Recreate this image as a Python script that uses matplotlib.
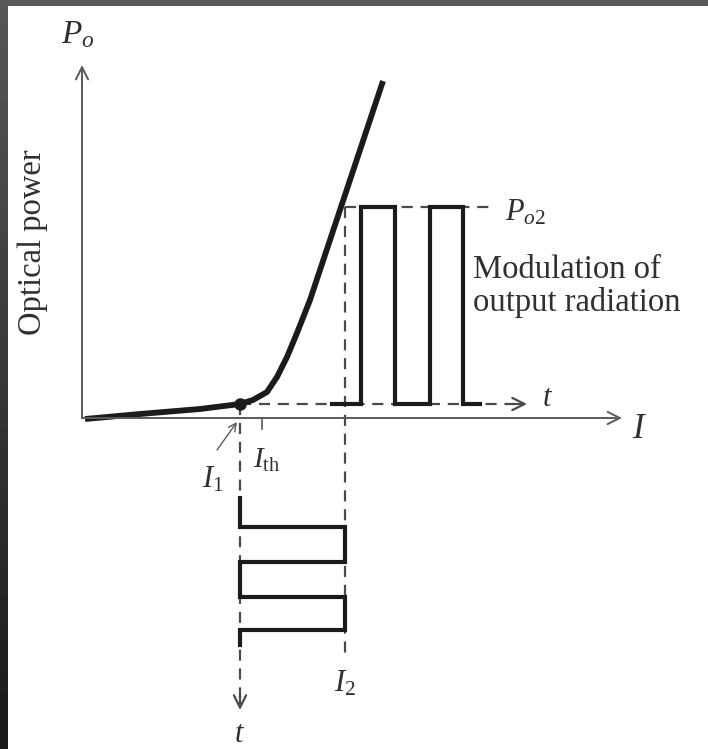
import numpy as np
import matplotlib
matplotlib.use("Agg")
import matplotlib.pyplot as plt

plt.rcParams['font.family'] = ['Liberation Serif', 'DejaVu Serif']
plt.rcParams['mathtext.fontset'] = 'custom'
plt.rcParams['mathtext.rm'] = 'Liberation Serif'
plt.rcParams['mathtext.it'] = 'Liberation Serif:italic'
plt.rcParams['mathtext.bf'] = 'Liberation Serif:bold'

# ---- diagram data (current / power units of the sketch) ----
# light-current (L-I) characteristic of the laser diode
li_current = [3, 58, 118, 158, 171, 185, 195, 205, 215, 228, 301]
li_power = [-1, 4, 9, 14, 18, 26, 41, 61, 85, 118, 337]

# operating currents
I1 = 158
I_th = 180
I2 = 263

# output power levels
P_low = 14
P_o2 = 211

# drive current waveform: times (downward axis) at which the current switches
in_switch_t = [-80, -109, -144, -179, -212, -227]
in_levels = [I1, I2, I1, I2, I1]

# output optical waveform: times (rightward axis) at which the power switches
out_switch_t = [250, 279, 313, 348, 381, 398]
out_levels = [P_low, P_o2, P_low, P_o2, P_low]

# axis extents
I_axis_end = 540
P_axis_end = 353
t_out_end = 445
t_in_end = -292

ink = '#1b1b1b'
axis_col = '#5a5a5a'
dash_col = '#4a4a4a'
txt_col = '#303030'

fig = plt.figure(figsize=(7.08, 7.49), dpi=100)
ax = fig.add_axes([0, 0, 1, 1])
ax.set_xlim(-82, 626)
ax.set_ylim(-331, 418)
ax.axis('off')

arrow_kw = dict(arrowstyle='->', color=axis_col, lw=1.4, mutation_scale=22,
                shrinkA=0, shrinkB=0)

# I axis and P axis
ax.annotate('', xy=(I_axis_end, 0), xytext=(0, 0), arrowprops=arrow_kw)
ax.annotate('', xy=(0, P_axis_end), xytext=(0, 0), arrowprops=arrow_kw)

# dashed guides
dash = dict(color=dash_col, lw=1.6, dashes=(5, 3.5))
ax.plot([I1, I1], [P_low, t_in_end + 12], **dash)
ax.plot([I2, I2], [P_o2, in_switch_t[-1] - 15], **dash)
ax.plot([I2, 411], [P_o2, P_o2], **dash)
ax.plot([I1, t_out_end - 12], [P_low, P_low], **dash)

# time axis arrowheads
arrow_t = dict(arrowstyle='->', color=dash_col, lw=1.6, mutation_scale=22,
               shrinkA=0, shrinkB=0)
ax.annotate('', xy=(t_out_end, P_low), xytext=(t_out_end - 14, P_low), arrowprops=arrow_t)
ax.annotate('', xy=(I1, t_in_end), xytext=(I1, t_in_end + 14), arrowprops=arrow_t)

# threshold tick
ax.plot([I_th, I_th], [0, -11], color=axis_col, lw=1.2)

# L-I characteristic
ax.plot(li_current, li_power, color=ink, lw=4.2, solid_capstyle='butt',
        solid_joinstyle='round')
ax.plot([I1], [P_low], 'o', color=ink, ms=8)

# output optical pulses
ox, oy = [], []
for k, lev in enumerate(out_levels):
    ox += [out_switch_t[k], out_switch_t[k + 1]]
    oy += [lev, lev]
ax.plot(ox, oy, color=ink, lw=3.0, solid_joinstyle='miter')

# drive current pulses
ix, iy = [], []
for k, lev in enumerate(in_levels):
    ix += [lev, lev]
    iy += [in_switch_t[k], in_switch_t[k + 1]]
ax.plot(ix, iy, color=ink, lw=3.0, solid_joinstyle='miter')

# labels
fs = 21
ax.text(-4, 383, r'$P_o$', fontsize=fs + 3, ha='center', va='center', color=txt_col)
ax.text(-49, 176, 'Optical power', fontsize=23.5, rotation=90, ha='center',
        va='center', color=txt_col)
ax.text(558, -12, r'$I$', fontsize=fs + 4, ha='center', va='center', color=txt_col)
ax.text(466, 20, r'$t$', fontsize=fs + 1, ha='center', va='center', color=txt_col)
ax.text(I1, -317, r'$t$', fontsize=fs + 1, ha='center', va='center', color=txt_col)
ax.text(I2, -266, r'$I_2$', fontsize=fs + 1, ha='center', va='center', color=txt_col)
ax.text(171, -42, r'$I_{\mathrm{th}}$', fontsize=fs, ha='left', va='center', color=txt_col)
ax.text(131, -62, r'$I_1$', fontsize=fs + 1, ha='center', va='center', color=txt_col)
ax.annotate('', xy=(155, -4), xytext=(135, -32),
            arrowprops=dict(arrowstyle='->', color=axis_col, lw=1.0,
                            mutation_scale=14, shrinkA=0, shrinkB=0))
ax.text(423, 205, r'$P_{o2}$', fontsize=fs + 1, ha='left', va='center', color=txt_col)
ax.text(391, 148, 'Modulation of', fontsize=23.5, ha='left', va='center', color=txt_col)
ax.text(391, 115, 'output radiation', fontsize=23.5, ha='left', va='center', color=txt_col)

# dark frame along the top and left edges
top = fig.add_axes([0, 1 - 6 / 749, 1, 6 / 749])
top.set_facecolor('#585858')
top.set_xticks([]); top.set_yticks([])
for s in top.spines.values():
    s.set_visible(False)
left = fig.add_axes([0, 0, 7 / 708, 1])
grad = np.linspace(0.34, 0.10, 200).reshape(-1, 1)
left.imshow(grad, cmap='gray', vmin=0, vmax=1, aspect='auto')
left.axis('off')

fig.savefig('out.png', dpi=100)
